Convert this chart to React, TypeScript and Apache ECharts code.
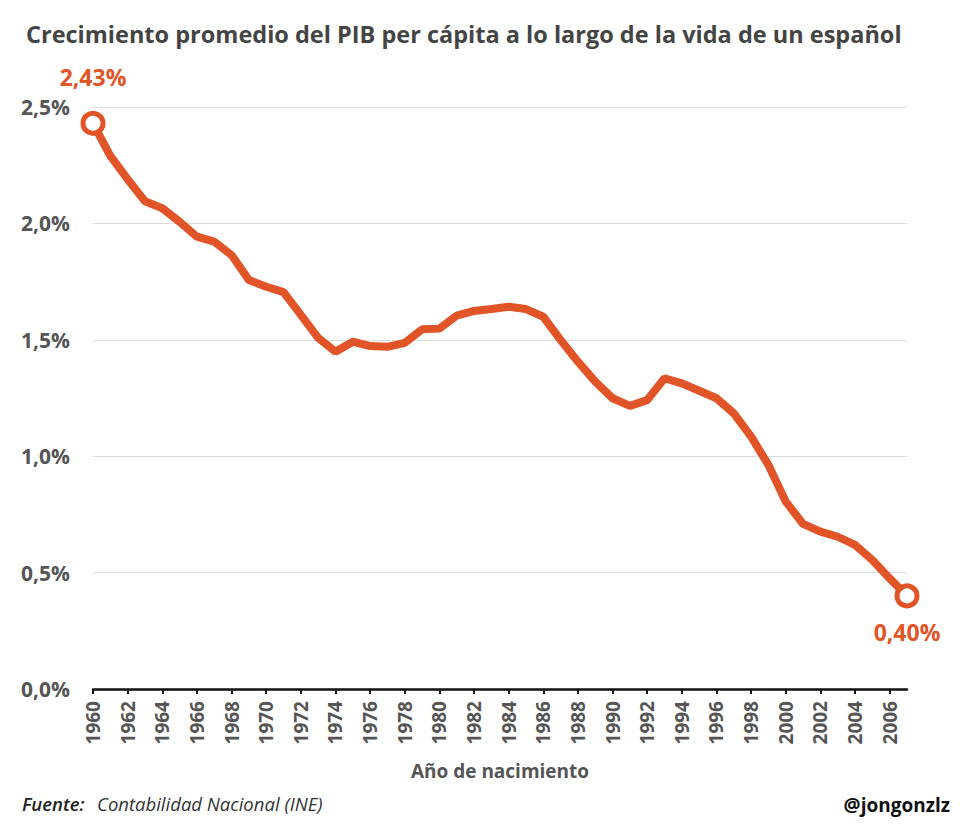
import React, { useEffect, useRef } from "react";
import * as echarts from "echarts";

const years: string[] = [];
for (let y = 1960; y <= 2007; y++) years.push(String(y));

const growth: number[] = [
  2.43, 2.29, 2.19, 2.095, 2.065, 2.007, 1.943, 1.922, 1.864, 1.757,
  1.728, 1.705, 1.607, 1.508, 1.449, 1.492, 1.473, 1.47, 1.487, 1.545,
  1.548, 1.604, 1.624, 1.632, 1.642, 1.632, 1.599, 1.499, 1.406, 1.32,
  1.249, 1.216, 1.241, 1.335, 1.313, 1.281, 1.249, 1.184, 1.084, 0.962,
  0.805, 0.709, 0.676, 0.654, 0.619, 0.554, 0.475, 0.40,
];

const yTicks = { min: 0, max: 2.5, interval: 0.5 };

const ORANGE = "#E15427";
const FONT = "'Open Sans', 'Noto Sans', sans-serif";

const fmt = (v: number, d: number) => v.toFixed(d).replace(".", ",") + "%";

export default function App() {
  const ref = useRef<HTMLDivElement>(null);
  useEffect(() => {
    document.body.style.margin = "0";
    if (!ref.current) return;
    const chart = echarts.init(ref.current, undefined, { renderer: "svg" });
    const last = growth.length - 1;
    chart.setOption({
      animation: false,
      backgroundColor: "#fff",
      textStyle: { fontFamily: FONT },
      title: {
        text: "Crecimiento promedio del PIB per cápita a lo largo de la vida de un español",
        left: 21,
        top: 17,
        textStyle: { fontFamily: FONT, fontSize: 23.5, fontWeight: "bold", color: "#444" },
      },
      grid: { left: 93, right: 68, top: 107, bottom: 144 },
      xAxis: {
        type: "category",
        data: years,
        boundaryGap: false,
        name: "Año de nacimiento",
        nameLocation: "middle",
        nameGap: 72,
        nameTextStyle: { fontFamily: FONT, fontSize: 19, fontWeight: "bold", color: "#555" },
        axisLine: { lineStyle: { color: "#111", width: 2.5 } },
        axisTick: { show: true, interval: 1, length: 5, lineStyle: { color: "#111", width: 2 } },
        axisLabel: {
          interval: 1,
          rotate: 90,
          margin: 12,
          fontFamily: FONT,
          fontSize: 19,
          fontWeight: "bold",
          color: "#555",
        },
        splitLine: { show: false },
      },
      yAxis: {
        type: "value",
        min: yTicks.min,
        max: yTicks.max,
        interval: yTicks.interval,
        axisLine: { show: false },
        axisTick: { show: false },
        splitLine: { lineStyle: { color: "#dcdcdc", width: 1 } },
        axisLabel: {
          margin: 23,
          fontFamily: FONT,
          fontSize: 21,
          fontWeight: "bold",
          color: "#555",
          formatter: (v: number) => fmt(v, 1),
        },
      },
      series: [
        {
          type: "line",
          data: growth,
          symbol: "none",
          lineStyle: { color: ORANGE, width: 8 },
          z: 2,
        },
        {
          type: "scatter",
          z: 5,
          symbol: "circle",
          symbolSize: 20,
          itemStyle: { color: "#fff", borderColor: ORANGE, borderWidth: 5, opacity: 1 },
          emphasis: { disabled: true },
          label: {
            show: true,
            fontFamily: FONT,
            fontSize: 23,
            fontWeight: "bold",
            color: ORANGE,
            formatter: (p: any) => fmt(p.value[1], 2),
          },
          data: [
            { value: [years[0], growth[0]], label: { position: "top", distance: 22 } },
            { value: [years[last], growth[last]], label: { position: "bottom", distance: 12 } },
          ],
        },
      ],
      graphic: [
        {
          type: "text",
          left: 22,
          top: 794,
          style: {
            text: "Fuente:",
            fontFamily: FONT,
            fontSize: 18.5,
            fontStyle: "italic",
            fontWeight: 600,
            fill: "#222",
          },
        },
        {
          type: "text",
          left: 97,
          top: 794,
          style: {
            text: "Contabilidad Nacional (INE)",
            fontFamily: FONT,
            fontSize: 18.5,
            fontStyle: "italic",
            fill: "#333",
          },
        },
        {
          type: "text",
          right: 25,
          top: 795,
          style: {
            text: "@jongonzlz",
            fontFamily: FONT,
            fontSize: 19,
            fontWeight: "bold",
            fill: "#111",
          },
        },
      ],
    });
    return () => chart.dispose();
  }, []);
  return <div ref={ref} style={{ width: 975, height: 833 }} />;
}
